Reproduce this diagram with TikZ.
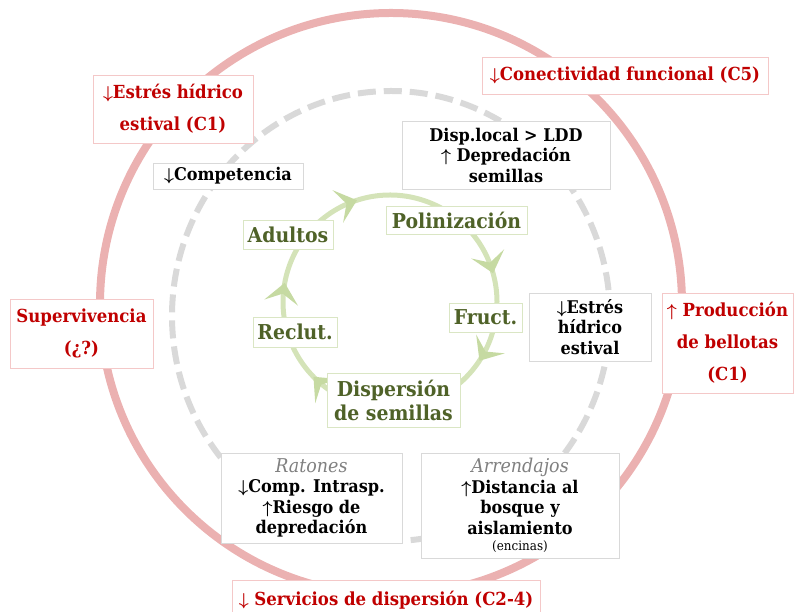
\documentclass[tikz,border=0pt]{standalone}
\usepackage{fontspec}
\setmainfont{DejaVu Serif}[FakeStretch=0.92]
\usepackage{bm}
\usepackage{tikz}
\usetikzlibrary{arrows.meta,calc,decorations.markings}
\definecolor{ringred}{HTML}{EBB1B1}
\definecolor{ringgray}{HTML}{D9D9D9}
\definecolor{ringgreen}{HTML}{D4E3B8}
\definecolor{tipgreen}{HTML}{C6DAA2}
\definecolor{darkred}{HTML}{C00000}
\definecolor{leafgreen}{HTML}{4F6228}
\definecolor{pinkline}{HTML}{F4C8C8}
\definecolor{greenline}{HTML}{DAE6C4}
\newcommand{\arrdn}{$\bm{\downarrow}$}
\newcommand{\arrup}{$\bm{\uparrow}$}

\begin{document}
\begin{tikzpicture}[x=1pt,y=1pt,
    redbox/.style={draw=pinkline, fill=white, text=darkred, align=center,
      font=\bfseries\fontsize{18}{32}\selectfont, inner sep=0pt},
    blackbox/.style={draw=ringgray, fill=white, text=black, align=center,
      font=\bfseries\fontsize{17.5}{20.5}\selectfont, inner sep=0pt},
    greenbox/.style={draw=greenline, fill=white, text=leafgreen, align=center,
      font=\bfseries\fontsize{20.5}{24}\selectfont, inner sep=0pt},
    cyclering/.style={draw=ringgreen, line width=5pt},
    arrow at/.style={postaction={decorate}, decoration={markings,
      mark=at position #1 with {\arrow[tipgreen]{Stealth[length=20pt,width=34pt,inset=9pt]}}}}]
        \useasboundingbox (0,0) rectangle (795,612);
        \clip (0,0) rectangle (795,612);
        % Outer and middle rings
        \draw[ringred, line width=8pt] (391,308) circle (291);
        \draw[ringgray, line width=6pt, dash pattern=on 18pt off 8pt] (391,296) ellipse [x radius=219, y radius=225];
        % Life cycle ring
        \coordinate (cyc) at (390,310);
        \coordinate (rAdu) at ($(cyc)+(146:107)$);
        \coordinate (rPol) at ($(cyc)+(51:107)$);
        \coordinate (rFru) at ($(cyc)+(-9:107)$);
        \coordinate (rDis) at ($(cyc)+(-90:107)$);
        \coordinate (rRec) at ($(cyc)+(197.5:107)$);
        \draw[cyclering, arrow at=0.40] (rAdu) arc[start angle=146, end angle=51, radius=107];
        \draw[cyclering, arrow at=0.59] (rPol) arc[start angle=51, end angle=-9, radius=107];
        \draw[cyclering, arrow at=0.30] (rFru) arc[start angle=-9, end angle=-90, radius=107];
        \draw[cyclering, arrow at=0.63] (rDis) arc[start angle=-90, end angle=-162.5, radius=107];
        \draw[cyclering, arrow at=0.54] (rRec) arc[start angle=197.5, end angle=146, radius=107];
        % Stages of the cycle
        \node[greenbox, minimum width=90, minimum height=29] (adultos) at (288,377.5) {Adultos};
        \node[greenbox, minimum width=141, minimum height=28] (polin) at (456.5,392) {Polinización};
        \node[greenbox, minimum width=73, minimum height=29] (fruct) at (485.5,294.5) {Fruct.};
        \node[greenbox, minimum width=133, minimum height=54] (dispers) at (393.5,212) {Dispersión\\de semillas};
        \node[greenbox, minimum width=84, minimum height=30] (reclut) at (295,280) {Reclut.};
        % Local effects
        \node[blackbox, minimum width=150, minimum height=26] (compet) at (228,436) {\arrdn Competencia};
        \node[blackbox, minimum width=208, minimum height=68] (displocal) at (506,457) {Disp.local > LDD\\\arrup\ Depredación\\semillas};
        \node[blackbox, minimum width=122, minimum height=68] (estresb) at (590,285) {\arrdn Estrés\\hídrico\\estival};
        \node[blackbox, minimum width=181, minimum height=90] (ratones) at (311.5,114)
          {{\mdseries\itshape\color{gray}\fontsize{19}{20.5}\selectfont Ratones}\\\arrdn Comp. Intrasp.\\\arrup Riesgo de\\depredación};
        \node[blackbox, minimum width=198, minimum height=105] (arrend) at (520,106.5)
          {{\mdseries\itshape\color{gray}\fontsize{19}{20.5}\selectfont Arrendajos}\\\arrup Distancia al\\bosque y\\aislamiento\\[-4pt]{\mdseries\fontsize{13}{14}\selectfont (encinas)}};
        % Landscape effects
        \node[redbox, minimum width=160, minimum height=68] (estresr) at (173,503) {\arrdn Estrés hídrico\\estival (C1)};
        \node[redbox, minimum width=286, minimum height=37] (conect) at (625,536.5) {\arrdn Conectividad funcional (C5)};
        \node[redbox, minimum width=143, minimum height=69] (superv) at (81.5,278.5) {Supervivencia\\(¿?)};
        \node[redbox, minimum width=131, minimum height=100] (produc) at (727.5,269) {\arrup\ Producción\\de bellotas\\(C1)};
        \node[redbox, minimum width=308, minimum height=40, anchor=north] (servic) at (386,32) {\arrdn\ Servicios de dispersión (C2-4)};
\end{tikzpicture}
\end{document}
